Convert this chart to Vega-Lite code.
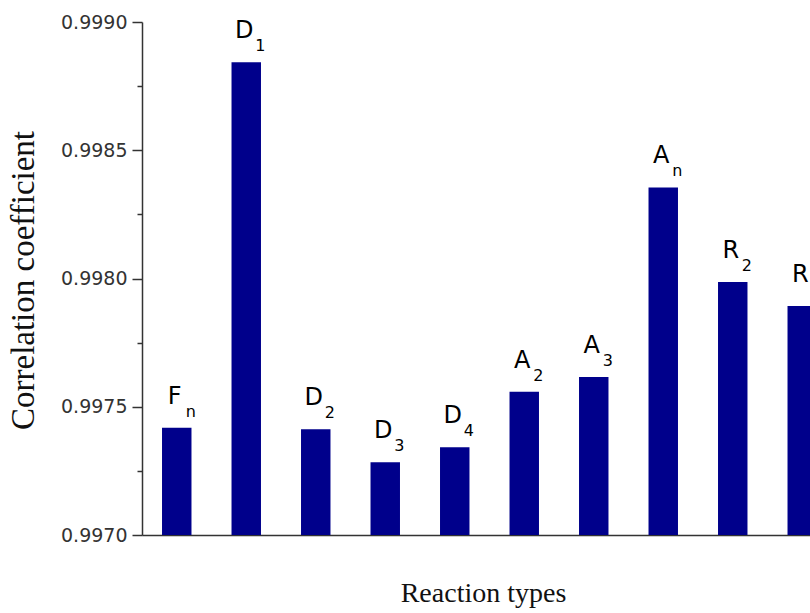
{
  "$schema": "https://vega.github.io/schema/vega-lite/v6.json",
  "width": 668,
  "height": 513,
  "autosize": {"type": "none"},
  "padding": {"left": 142, "top": 22, "right": 0, "bottom": 78},
  "background": "white",
  "config": {"view": {"stroke": null}, "axis": {"grid": false}},
  "data": {
    "values": [
      {"type": "Fn", "main": "F", "sub": "n", "value": 0.997418},
      {"type": "D1", "main": "D", "sub": "1", "value": 0.998843},
      {"type": "D2", "main": "D", "sub": "2", "value": 0.997412},
      {"type": "D3", "main": "D", "sub": "3", "value": 0.997284},
      {"type": "D4", "main": "D", "sub": "4", "value": 0.997342},
      {"type": "A2", "main": "A", "sub": "2", "value": 0.997558},
      {"type": "A3", "main": "A", "sub": "3", "value": 0.997616},
      {"type": "An", "main": "A", "sub": "n", "value": 0.998355},
      {"type": "R2", "main": "R", "sub": "2", "value": 0.997986},
      {"type": "R3", "main": "R", "sub": "3", "value": 0.997893}
    ]
  },
  "encoding": {
    "x": {
      "field": "type",
      "type": "nominal",
      "sort": null,
      "scale": {"range": [0, 695], "paddingInner": 0.576, "paddingOuter": 0.288},
      "axis": {
        "title": "Reaction types",
        "labels": false,
        "ticks": false,
        "domainColor": "#333333",
        "domainWidth": 1.5,
        "titleFont": "Liberation Serif",
        "titleFontSize": 28,
        "titleFontWeight": "normal",
        "titleColor": "#111111",
        "titleX": 341,
        "titleY": 66,
        "titleAlign": "center",
        "titleBaseline": "alphabetic"
      }
    }
  },
  "resolve": {"axis": {"y": "independent"}},
  "layer": [
    {
      "mark": {"type": "bar", "color": "#00008b"},
      "encoding": {
        "y": {
          "field": "value",
          "type": "quantitative",
          "scale": {"domain": [0.997, 0.999], "nice": false, "zero": false},
          "axis": {
            "orient": "left",
            "values": [0.997, 0.9975, 0.998, 0.9985, 0.999],
            "format": ".4f",
            "tickSize": 10,
            "tickWidth": 1.5,
            "tickColor": "#333333",
            "domainColor": "#333333",
            "domainWidth": 1.5,
            "labelFont": "DejaVu Sans",
            "labelFontSize": 19,
            "labelColor": "#333333",
            "labelPadding": 5,
            "title": "Correlation coefficient",
            "titleFont": "Liberation Serif",
            "titleFontSize": 33,
            "titleFontWeight": "normal",
            "titleColor": "#111111",
            "titleAngle": 270,
            "titleX": -109,
            "titleY": 258,
            "titleAlign": "center",
            "titleBaseline": "alphabetic"
          }
        },
        "y2": {"datum": 0.997}
      }
    },
    {
      "mark": {"type": "text", "font": "DejaVu Sans", "fontSize": 24, "color": "#000000", "align": "center", "baseline": "alphabetic", "dx": -2, "dy": -24},
      "encoding": {
        "y": {
          "field": "value",
          "type": "quantitative",
          "axis": {
            "orient": "left",
            "values": [0.99725, 0.99775, 0.99825, 0.99875],
            "labels": false,
            "domain": false,
            "tickSize": 5,
            "tickWidth": 1.5,
            "tickColor": "#333333",
            "title": null
          }
        },
        "text": {"field": "main"}
      }
    },
    {
      "mark": {"type": "text", "font": "DejaVu Sans", "fontSize": 16, "color": "#000000", "align": "left", "baseline": "alphabetic", "dx": 9, "dy": -11},
      "encoding": {
        "y": {"field": "value", "type": "quantitative", "axis": null},
        "text": {"field": "sub"}
      }
    }
  ]
}
